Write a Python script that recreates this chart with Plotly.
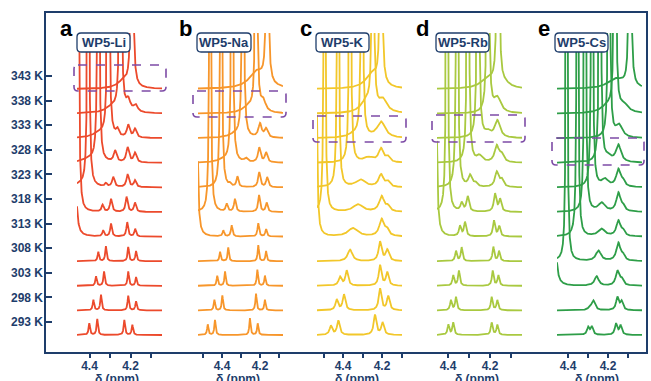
import numpy as np
import plotly.graph_objects as go

# ---------------- data ----------------
TEMPS = [293, 298, 303, 308, 313, 318, 323, 328, 333, 338, 343]
TEMP_LABELS = ["293 K", "298 K", "303 K", "308 K", "313 K", "318 K",
               "323 K", "328 K", "333 K", "338 K", "343 K"]
PANEL_LETTERS = ["a", "b", "c", "d", "e"]
PANEL_NAMES = ["WP5-Li", "WP5-Na", "WP5-K", "WP5-Rb", "WP5-Cs"]
X_TICK_VALUES = [4.5, 4.4, 4.3, 4.2, 4.1]
X_TICK_TEXT = ["", "4.4", "", "4.2", ""]
X_TITLE = "δ (ppm)"

# peak lists (ppm, height in row units, half width in ppm), one list per temperature (293 K -> 343 K)
LI_PEAKS = [
    [(4.401, .47, .004), (4.362, .65, .004), (4.230, .61, .004), (4.191, .41, .004)],
    [(4.381, .43, .004), (4.344, .64, .004), (4.211, .60, .004), (4.173, .37, .004)],
    [(4.368, .38, .004), (4.329, .58, .004), (4.211, .58, .004), (4.173, .35, .004)],
    [(4.357, .38, .004), (4.320, .61, .004), (4.211, .58, .004), (4.173, .41, .004)],
    [(4.475, 40, .0025), (4.333, .24, .005), (4.295, .52, .005), (4.216, .58, .005), (4.177, .31, .005)],
    [(4.456, 40, .0025), (4.336, .27, .006), (4.295, .52, .006), (4.219, .61, .006), (4.178, .37, .006)],
    [(4.406, 40, .0025), (4.320, .13, .006), (4.284, .40, .007), (4.214, .52, .007), (4.178, .27, .007), (4.44, .10, .04)],
    [(4.357, 40, .0025), (4.275, .45, .008), (4.214, .60, .008), (4.178, .38, .008), (4.40, .15, .04)],
    [(4.308, 40, .0025), (4.264, .28, .008), (4.211, .50, .008), (4.178, .35, .008), (4.35, .20, .04)],
    [(4.249, 40, .0025), (4.211, .45, .012), (4.175, .28, .012), (4.29, .25, .04)],
    [(4.193, 40, .0025), (4.235, .30, .035)],
]
NA_PEAKS = [
    [(4.475, .43, .004), (4.437, .61, .004), (4.253, .68, .004), (4.212, .47, .004)],
    [(4.440, .43, .004), (4.398, .61, .004), (4.221, .68, .004), (4.174, .43, .004)],
    [(4.425, .41, .004), (4.384, .58, .004), (4.214, .65, .004), (4.174, .41, .004)],
    [(4.410, .38, .004), (4.367, .56, .004), (4.209, .65, .004), (4.168, .41, .004)],
    [(4.535, 40, .0025), (4.393, .24, .005), (4.349, .45, .005), (4.209, .54, .005), (4.168, .30, .005)],
    [(4.463, 40, .0025), (4.375, .31, .006), (4.332, .52, .006), (4.205, .68, .006), (4.165, .37, .006)],
    [(4.405, 40, .0025), (4.358, .10, .006), (4.319, .42, .006), (4.204, .61, .007), (4.162, .40, .007)],
    [(4.347, 40, .0025), (4.274, .15, .010), (4.204, .60, .008), (4.168, .40, .008), (4.39, .12, .04)],
    [(4.290, 40, .0025), (4.200, .55, .010), (4.168, .35, .010), (4.33, .15, .04)],
    [(4.220, 40, .0025), (4.183, .43, .015), (4.26, .25, .04)],
    [(4.162, 40, .0025), (4.215, .70, .05)],
]
K_PEAKS = [
    [(4.462, .37, .008), (4.424, .58, .008), (4.236, .81, .008), (4.197, .50, .008)],
    [(4.432, .43, .008), (4.395, .64, .008), (4.210, .88, .008), (4.168, .57, .008)],
    [(4.415, .35, .009), (4.381, .61, .008), (4.210, .83, .008), (4.173, .54, .008)],
    [(4.364, .47, .014), (4.210, .78, .009), (4.173, .45, .010)],
    [(4.540, 40, .0025), (4.349, .34, .030), (4.202, .68, .014), (4.175, .25, .012)],
    [(4.495, 40, .0025), (4.323, .30, .030), (4.202, .62, .015), (4.170, .20, .012)],
    [(4.426, 40, .0025), (4.310, .30, .030), (4.205, .50, .015), (4.170, .20, .012)],
    [(4.364, 40, .0025), (4.270, .20, .030), (4.205, .55, .015), (4.170, .20, .012)],
    [(4.303, 40, .0025), (4.205, .65, .025), (4.34, .15, .04)],
    [(4.247, 40, .0025), (4.195, .50, .025), (4.28, .45, .035)],
    [(4.205, 40, .0025), (4.25, .60, .04)],
]
RB_PEAKS = [
    [(4.398, .41, .005), (4.375, .50, .005), (4.192, .50, .005), (4.165, .41, .005)],
    [(4.386, .41, .005), (4.362, .54, .005), (4.192, .54, .005), (4.165, .41, .005)],
    [(4.375, .42, .005), (4.348, .61, .005), (4.187, .61, .005), (4.160, .42, .005)],
    [(4.362, .41, .005), (4.335, .56, .005), (4.184, .58, .005), (4.157, .41, .005)],
    [(4.460, 40, .0025), (4.343, .41, .006), (4.319, .57, .006), (4.181, .64, .006), (4.156, .41, .006)],
    [(4.405, 40, .0025), (4.335, .34, .007), (4.306, .61, .007), (4.176, .72, .007), (4.152, .50, .007)],
    [(4.357, 40, .0025), (4.295, .45, .010), (4.270, .15, .010), (4.168, .60, .010), (4.145, .30, .010)],
    [(4.305, 40, .0025), (4.250, .25, .015), (4.168, .65, .012), (4.145, .30, .012)],
    [(4.257, 40, .0025), (4.165, .70, .015), (4.210, .20, .015)],
    [(4.210, 40, .0025), (4.165, .60, .020)],
    [(4.162, 40, .0025), (4.21, .40, .04), (4.13, .15, .03)],
]
CS_PEAKS = [
    [(4.299, .30, .007), (4.281, .33, .007), (4.160, .45, .007), (4.137, .38, .007)],
    [(4.290, .10, .010), (4.273, .38, .010), (4.153, .52, .008), (4.132, .35, .008)],
    [(4.471, 40, .0025), (4.257, .38, .012), (4.153, .58, .010), (4.132, .25, .010)],
    [(4.407, 40, .0025), (4.248, .42, .015), (4.148, .72, .012), (4.125, .20, .010)],
    [(4.353, 40, .0025), (4.232, .30, .020), (4.148, .62, .012), (4.125, .20, .010)],
    [(4.315, 40, .0025), (4.232, .35, .020), (4.148, .75, .012), (4.125, .20, .010)],
    [(4.280, 40, .0025), (4.215, .30, .020), (4.148, .70, .013), (4.125, .20, .010)],
    [(4.240, 40, .0025), (4.148, .70, .015), (4.200, .20, .020)],
    [(4.195, 40, .0025), (4.145, .50, .020)],
    [(4.165, 40, .0025), (4.120, .30, .025), (4.20, .30, .04)],
    [(4.090, 40, .0025), (4.16, .40, .05)],
]
PANEL_PEAKS = [LI_PEAKS, NA_PEAKS, K_PEAKS, RB_PEAKS, CS_PEAKS]

# ---------------- style / layout ----------------
COLORS = ["#EC4A2C", "#F7962B", "#F2C72A", "#A9C940", "#2E9E48"]
NAVY = "#1E3D6B"
PURPLE = "#7D4BA6"
FONT = "Liberation Sans, Arial, sans-serif"

W, H = 651, 381
ML, MR, MT, MB = 45, 4, 33, 28
PW, PH = W - ML - MR, H - MT - MB
ROW_PX = 24.6          # pixel spacing between stacked spectra
BASE0_PX = 335         # pixel y of the 293 K baseline
LABEL_OFFSET = 13 / ROW_PX

# per panel: domain left px, right px, px of 4.4 ppm, px per ppm
PANEL_PX = [(77, 162, 89.5, 205), (198, 283, 222, 190), (317, 402, 343, 195),
            (437, 522, 448, 210), (557, 642, 568, 200)]
LETTER_X = [66, 185, 306, 422, 544]
NAME_BOX = [(77, 130), (197, 251), (316, 369), (436, 489), (555, 608)]
DASH_BOX = [(74, 65, 166, 91), (193, 91, 286, 117), (313, 116, 406, 142),
            (432, 115, 525, 142), (552, 138, 644, 165)]


def X(px):
    return (px - ML) / PW


def Y(py):
    return (H - MB - py) / PH


def rounded(x0, y0, x1, y1, r):
    a, b, c, d = X(x0), X(x1), Y(y0), Y(y1)
    rx, ry = r / PW, r / PH
    return (f"M {a+rx},{c} L {b-rx},{c} Q {b},{c} {b},{c-ry} L {b},{d+ry} "
            f"Q {b},{d} {b-rx},{d} L {a+rx},{d} Q {a},{d} {a},{d+ry} "
            f"L {a},{c-ry} Q {a},{c} {a+rx},{c} Z")


fig = go.Figure()
layout = {}
shapes = []
annotations = []

ymin = -(H - MB - BASE0_PX) / ROW_PX
ymax = (BASE0_PX - MT) / ROW_PX

for p in range(5):
    L, R, p44, s = PANEL_PX[p]
    rl = 4.4 + (p44 - L) / s
    rr = 4.4 - (R - p44) / s
    axid = "x" if p == 0 else f"x{p+1}"
    key = "xaxis" if p == 0 else f"xaxis{p+1}"
    xs = np.linspace(rl, rr, 1400)
    for i, peaks in enumerate(PANEL_PEAKS[p]):
        y = np.full_like(xs, float(i))
        for c, h, w in peaks:
            y = y + h * w * w / ((xs - c) ** 2 + w * w)
        fig.add_trace(go.Scatter(x=xs, y=y, mode="lines", xaxis=axid, yaxis="y",
                                 line=dict(color=COLORS[p], width=1.8),
                                 hoverinfo="skip", showlegend=False))
    layout[key] = dict(domain=[X(L), X(R)], range=[rl, rr], anchor="y",
                       tickvals=X_TICK_VALUES, ticktext=X_TICK_TEXT,
                       ticks="outside", ticklen=4, tickwidth=1.5, tickcolor=NAVY,
                       ticklabelstandoff=-2,
                       tickfont=dict(family=FONT, size=12, color=NAVY, weight="bold"),
                       showline=False, showgrid=False, zeroline=False)
    annotations.append(dict(text=X_TITLE, xref="paper", yref="paper",
                            x=X((L + R) / 2 - 3), y=Y(379), xanchor="center", yanchor="middle",
                            showarrow=False, font=dict(family=FONT, size=12, color=NAVY, weight="bold")))
    annotations.append(dict(text=PANEL_LETTERS[p], xref="paper", yref="paper",
                            x=X(LETTER_X[p]), y=Y(28.5), xanchor="center", yanchor="middle",
                            showarrow=False, font=dict(family=FONT, size=22, color="black", weight="bold")))
    bx0, bx1 = NAME_BOX[p]
    shapes.append(dict(type="path", xref="paper", yref="paper", path=rounded(bx0, 33, bx1, 52, 4),
                       fillcolor="white", line=dict(color=NAVY, width=1.3), layer="above"))
    annotations.append(dict(text=PANEL_NAMES[p], xref="paper", yref="paper",
                            x=X((bx0 + bx1) / 2), y=Y(42.5), xanchor="center", yanchor="middle",
                            showarrow=False, font=dict(family=FONT, size=13, color=NAVY, weight="bold")))
    dx0, dy0, dx1, dy1 = DASH_BOX[p]
    shapes.append(dict(type="path", xref="paper", yref="paper", path=rounded(dx0, dy0, dx1, dy1, 4),
                       line=dict(color=PURPLE, width=1.6, dash="dash"), layer="above"))

shapes.append(dict(type="rect", xref="paper", yref="paper", x0=0, x1=X(647), y0=0, y1=Y(12),
                   line=dict(color=NAVY, width=2), layer="above"))

layout["yaxis"] = dict(domain=[0, 1], range=[ymin, ymax], anchor="free", position=0,
                       tickvals=[i + LABEL_OFFSET for i in range(len(TEMPS))], ticktext=TEMP_LABELS,
                       ticks="inside", ticklen=6, tickwidth=1.7, tickcolor=NAVY,
                       ticklabelstandoff=2,
                       tickfont=dict(family=FONT, size=12, color=NAVY, weight="bold"),
                       showline=False, showgrid=False, zeroline=False)

fig.update_layout(width=W, height=H, margin=dict(l=ML, r=MR, t=MT, b=MB, autoexpand=False),
                  paper_bgcolor="white", plot_bgcolor="white", showlegend=False,
                  shapes=shapes, annotations=annotations, **layout)
fig.write_html("out.html", config={"displayModeBar": False},
               post_script="document.body.style.margin='0';document.body.style.overflow='hidden';")
